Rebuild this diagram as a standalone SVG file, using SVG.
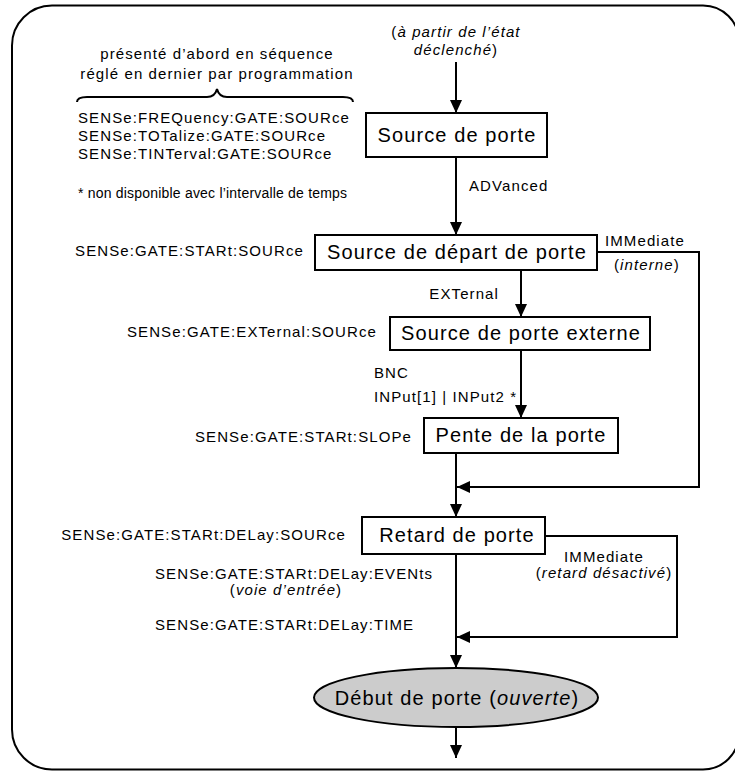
<svg xmlns="http://www.w3.org/2000/svg" width="735" height="771" viewBox="0 0 735 771">
<style>
text{font-family:"Liberation Sans",Arial,sans-serif;fill:#000}
.lb{font-size:15px;letter-spacing:1.1px}
.sm{font-size:14px;letter-spacing:0.2px}
.bx{font-size:20px;letter-spacing:1.1px}
.c{text-anchor:middle}
.r{text-anchor:end}
.i{font-style:italic}
.box{fill:#fff;stroke:#000;stroke-width:2}
.ln{fill:none;stroke:#000;stroke-width:2}
</style>
<defs>
<marker id="ah" markerUnits="userSpaceOnUse" markerWidth="14" markerHeight="12" refX="13" refY="6" orient="auto">
<path d="M0,0 L13,6 L0,12 z" fill="#000"/>
</marker>
</defs>
<path id="frame" d="M52,5.5 H703 A36,36 0 0 1 739,41.5 M739,733.5 A36,36 0 0 1 703,769.5 H52 A40,40 0 0 1 12,729.5 V45.5 A40,40 0 0 1 52,5.5" fill="none" stroke="#000" stroke-width="2"/>

<g id="notes">
<text class="lb c" x="217" y="59">présenté d’abord en séquence</text>
<text class="lb c" x="217" y="79">réglé en dernier par programmation</text>
<path class="ln" stroke-width="1.2" d="M77,102 Q77,97 87,97 L207,97 Q215,97 217,89 Q219,97 227,97 L343,97 Q353,97 353,102"/>
<text class="lb" x="78" y="123">SENSe:FREQuency:GATE:SOURce</text>
<text class="lb" x="78" y="141">SENSe:TOTalize:GATE:SOURce</text>
<text class="lb" x="78" y="159">SENSe:TINTerval:GATE:SOURce</text>
<text class="sm" x="78" y="198">* non disponible avec l’intervalle de temps</text>
<text class="lb c" x="456" y="37">(<tspan class="i">à partir de l’état</tspan></text>
<text class="lb c" x="456" y="55"><tspan class="i">déclenché</tspan>)</text>
</g>

<g id="connectors">
<line class="ln" x1="456" y1="62" x2="456" y2="113" marker-end="url(#ah)"/>
<line class="ln" x1="456" y1="157" x2="456" y2="235" marker-end="url(#ah)"/>
<line class="ln" x1="521" y1="270" x2="521" y2="317" marker-end="url(#ah)"/>
<line class="ln" x1="521" y1="350" x2="521" y2="418" marker-end="url(#ah)"/>
<polyline class="ln" points="597,252 699,252 699,487 457,487" marker-end="url(#ah)"/>
<line class="ln" x1="456" y1="453" x2="456" y2="517" marker-end="url(#ah)"/>
<polyline class="ln" points="545,536 677,536 677,637 457,637" marker-end="url(#ah)"/>
<line class="ln" x1="456" y1="554" x2="456" y2="668" marker-end="url(#ah)"/>
<line class="ln" x1="456" y1="727" x2="456" y2="758" marker-end="url(#ah)"/>
<text class="lb" x="469" y="191">ADVanced</text>
<text class="lb" x="605" y="246">IMMediate</text>
<text class="lb" x="614" y="270">(<tspan class="i">interne</tspan>)</text>
<text class="lb r" x="499" y="299">EXTernal</text>
<text class="lb" x="374" y="378">BNC</text>
<text class="lb" x="374" y="402">INPut[1] | INPut2 *</text>
<text class="lb c" x="604" y="562">IMMediate</text>
<text class="lb c" x="604" y="578">(<tspan class="i">retard désactivé</tspan>)</text>
</g>

<g id="n1">
<rect class="box" x="366" y="113" width="181" height="44"/>
<text class="bx c" x="457" y="142">Source de porte</text>
</g>

<g id="n2">
<rect class="box" x="315" y="235" width="282" height="35"/>
<text class="bx c" x="457" y="259">Source de départ de porte</text>
<text class="lb r" x="304" y="256">SENSe:GATE:STARt:SOURce</text>
</g>

<g id="n3">
<rect class="box" x="390" y="317" width="260" height="33"/>
<text class="bx c" x="521" y="340">Source de porte externe</text>
<text class="lb r" x="377" y="337">SENSe:GATE:EXTernal:SOURce</text>
</g>

<g id="n4">
<rect class="box" x="424" y="418" width="194" height="35"/>
<text class="bx c" x="521" y="442">Pente de la porte</text>
<text class="lb r" x="412" y="442">SENSe:GATE:STARt:SLOPe</text>
</g>

<g id="n5">
<rect class="box" x="362" y="517" width="183" height="37"/>
<text class="bx c" x="457" y="542">Retard de porte</text>
<text class="lb r" x="346" y="540">SENSe:GATE:STARt:DELay:SOURce</text>
<text class="lb" x="155" y="579">SENSe:GATE:STARt:DELay:EVENts</text>
<text class="lb c" x="286" y="595">(<tspan class="i">voie d’entrée</tspan>)</text>
<text class="lb" x="155" y="630">SENSe:GATE:STARt:DELay:TIME</text>
</g>

<g id="n6">
<ellipse cx="456" cy="697.5" rx="142" ry="29.5" fill="#cccccc" stroke="#000" stroke-width="2"/>
<text class="bx c" x="457" y="705">Début de porte (<tspan class="i">ouverte</tspan>)</text>
</g>
</svg>
